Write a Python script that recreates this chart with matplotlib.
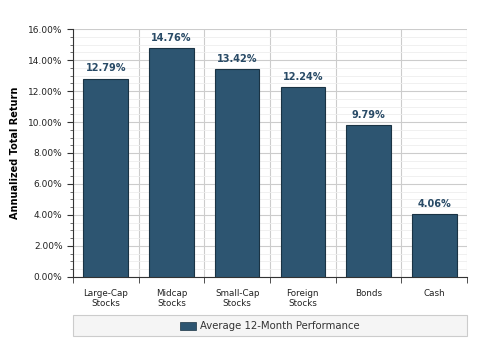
import numpy as np
import matplotlib.pyplot as plt
from matplotlib.patches import Rectangle
from matplotlib.ticker import MultipleLocator, FuncFormatter

# chart data
categories = ['Large-Cap\nStocks', 'Midcap\nStocks', 'Small-Cap\nStocks',
              'Foreign\nStocks', 'Bonds', 'Cash']
returns = [12.79, 14.76, 13.42, 12.24, 9.79, 4.06]
series_name = 'Average 12-Month Performance'

bar_color = '#2d5571'
label_color = '#284a66'

fig = plt.figure(figsize=(4.8, 3.6), dpi=100)
ax = fig.add_axes([0.152, 0.231, 0.821, 0.688])

x = np.arange(len(categories))
bars = ax.bar(x, returns, width=0.68, color=bar_color, edgecolor='#1a3344',
              linewidth=0.8, zorder=3)

for xi, v in zip(x, returns):
    ax.text(xi, v + 0.35, '%.2f%%' % v, ha='center', va='bottom',
            fontsize=7, fontweight='bold', color=label_color, zorder=4)

ax.set_xlim(-0.5, len(categories) - 0.5)
ax.set_ylim(0, 16)
ax.yaxis.set_major_locator(MultipleLocator(2))
ax.yaxis.set_minor_locator(MultipleLocator(0.5))
ax.yaxis.set_major_formatter(FuncFormatter(lambda v, p: '%.2f%%' % v))

# vertical grid at category boundaries
ax.set_xticks(x)
ax.set_xticklabels(categories, fontsize=6.3, color='#222222', linespacing=1.1)
ax.set_xticks(np.arange(-0.5, len(categories)), minor=True)
ax.tick_params(axis='x', which='major', length=0, pad=9)
ax.tick_params(axis='x', which='minor', length=4, color='#333333')
ax.grid(True, axis='x', which='minor', color='#cccccc', linewidth=0.8, zorder=0)
ax.grid(True, axis='y', which='major', color='#cccccc', linewidth=0.8, zorder=0)
ax.grid(True, axis='y', which='minor', color='#eeeeee', linewidth=0.6, zorder=0)
ax.tick_params(axis='y', which='major', labelsize=6.5, length=4, color='#333333',
               labelcolor='#222222')
ax.tick_params(axis='y', which='minor', length=2, color='#555555')

for s in ['top', 'right']:
    ax.spines[s].set_visible(False)
ax.spines['left'].set_color('#333333')
ax.spines['bottom'].set_color('#333333')
ax.spines['left'].set_linewidth(0.8)
ax.spines['bottom'].set_linewidth(0.8)

ax.set_ylabel('Annualized Total Return', fontsize=7, fontweight='bold', labelpad=6)

# legend box below the plot
lx0, ly0, lw, lh = 73 / 480, 1 - 336 / 360, 394 / 480, 21 / 360
fig.patches.append(Rectangle((lx0, ly0), lw, lh, transform=fig.transFigure,
                             facecolor='#f5f5f5', edgecolor='#cccccc',
                             linewidth=0.8))
fig.patches.append(Rectangle((180 / 480, 1 - 330 / 360), 16 / 480, 8 / 360,
                             transform=fig.transFigure, facecolor=bar_color,
                             edgecolor='#1a3344', linewidth=0.5))
fig.text(200 / 480, 1 - 326 / 360, series_name, fontsize=7.3, color='#333333',
         va='center', ha='left')

fig.savefig('out.png', dpi=100)
